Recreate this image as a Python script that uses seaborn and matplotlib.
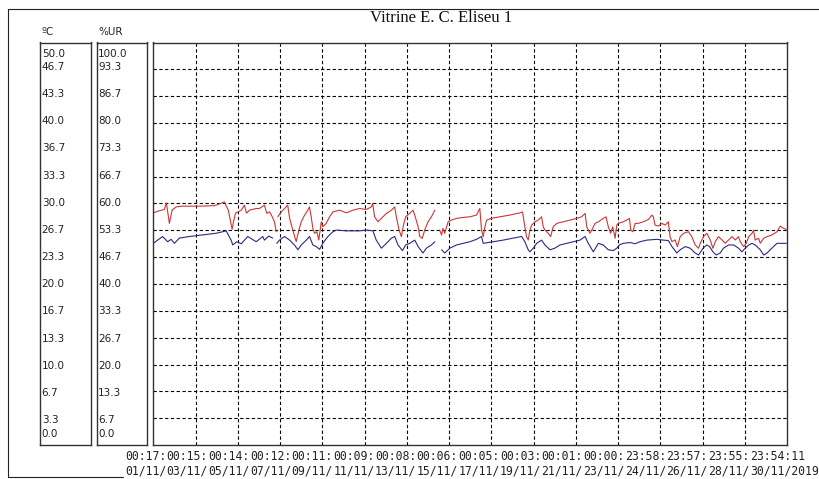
import numpy as np
import pandas as pd
import seaborn as sns
import matplotlib.pyplot as plt
from matplotlib.lines import Line2D
from matplotlib.transforms import blended_transform_factory, offset_copy

# temperature (red, degC) - days since 01/11 00:17, NaN = logger gap
red_day = [0.00, 0.28, 0.52, 0.62, 0.76, 0.89, 1.08, 1.37, 2.18, 2.89,
           3.22, 3.36, 3.55, 3.73, 3.79, 3.89, 4.16, 4.31, 4.41, 4.55,
           4.87, 5.02, 5.26, 5.37, 5.50, 5.63, 5.73, 5.82, 5.85, 5.89,
           6.00, 6.10, 6.21, 6.36, 6.45, 6.60, 6.76, 6.89, 7.00, 7.16,
           7.31, 7.39, 7.47, 7.55, 7.63, 7.74, 7.83, 7.95, 8.02, 8.18,
           8.34, 8.50, 8.82, 9.13, 9.45, 9.76, 10.08, 10.32, 10.38, 10.47,
           10.63, 10.79, 11.03, 11.27, 11.42, 11.50, 11.63, 11.74, 11.82, 11.94,
           12.13, 12.29, 12.37, 12.53, 12.61, 12.73, 12.84, 13.00, 13.16, 13.32,
           13.45, 13.55, 13.64, 13.71, 13.79, 13.95, 14.11, 14.35, 14.66, 14.98,
           15.29, 15.45, 15.53, 15.61, 15.69, 15.77, 16.00, 16.40, 16.87, 17.35,
           17.47, 17.58, 17.66, 17.74, 17.82, 17.90, 18.06, 18.21, 18.37, 18.45,
           18.53, 18.69, 18.80, 18.92, 19.09, 19.40, 19.72, 20.03, 20.27, 20.43,
           20.51, 20.66, 20.79, 20.90, 21.06, 21.29, 21.42, 21.53, 21.64, 21.74,
           21.85, 21.93, 22.00, 22.24, 22.40, 22.53, 22.59, 22.69, 22.80, 22.95,
           23.19, 23.43, 23.59, 23.66, 23.74, 23.90, 24.06, 24.22, 24.37, 24.45,
           24.54, 24.69, 24.80, 24.93, 25.09, 25.32, 25.48, 25.64, 25.80, 25.88,
           26.03, 26.19, 26.35, 26.48, 26.59, 26.74, 26.91, 27.06, 27.22, 27.38,
           27.54, 27.69, 27.77, 27.93, 28.06, 28.17, 28.33, 28.40, 28.48, 28.64,
           28.72, 28.88, 29.04, 29.27, 29.51, 29.67, 29.82, 29.95]
red_temp = [28.84, 29.09, 29.26, 30.07, 27.53, 29.17, 29.58, 29.67, 29.67, 29.73,
            30.04, 30.20, 29.17, 26.79, 27.69, 28.80, 29.17, 29.79, 28.80, 29.17,
            29.38, 29.38, 29.79, 28.77, 28.96, 28.35, 27.73, 26.49, np.nan, 28.35,
            28.77, 29.09, 29.38, 29.79, 28.15, 26.70, 25.26, 26.70, 27.73, 28.56,
            29.17, 29.58, 28.35, 26.91, 26.30, 26.49, 25.47, 27.73, 27.11, 27.53,
            28.35, 28.96, 29.17, 28.84, 29.17, 29.38, 29.26, 29.58, 30.00, 28.35,
            27.73, 28.15, 28.77, 29.17, 29.58, 28.35, 26.70, 25.88, 27.11, 28.35,
            28.77, 29.17, 28.56, 27.11, 25.88, 25.68, 26.70, 27.73, 28.35, 29.17,
            np.nan, 26.70, 26.09, 26.91, 26.30, 27.73, 27.94, 28.15, 28.27, 28.35,
            28.56, 29.38, 26.70, 25.88, 27.11, 27.94, 28.15, 28.35, 28.56, 28.84,
            28.96, 27.11, 25.88, 25.47, 26.70, 27.32, 27.73, 27.94, 28.35, 27.11,
            26.70, 26.30, 25.88, 27.11, 27.53, 27.73, 27.94, 28.15, 28.35, 28.77,
            27.11, 26.30, 26.91, 27.53, 27.73, 28.15, 28.35, 27.11, 26.30, 27.11,
            25.68, 27.32, 27.53, 27.73, 27.94, 28.15, 26.70, 26.49, 27.53, 27.53,
            27.73, 28.02, 28.56, 28.35, 27.32, 27.20, 27.53, 27.32, 27.73, 25.88,
            25.26, 25.47, 24.64, 25.88, 26.30, 26.49, 25.88, 24.85, 24.44, 25.06,
            25.88, 26.30, 25.47, 24.44, 25.26, 25.88, 25.47, 25.06, 25.47, 25.88,
            25.47, 25.88, 25.26, 24.64, 25.06, 25.88, 26.30, 26.70, 25.47, 25.68,
            25.06, 25.68, 25.88, 26.09, 26.49, 27.20, 26.91, 26.79]

# relative humidity (blue, %UR)
blue_day = [0.00, 0.44, 0.68, 0.84, 1.00, 1.23, 1.71, 2.97, 3.45, 3.68,
            3.76, 3.95, 4.16, 4.47, 4.87, 5.18, 5.26, 5.46, 5.65, 5.75,
            5.84, 5.97, 6.21, 6.45, 6.68, 6.84, 7.00, 7.24, 7.39, 7.55,
            7.71, 7.87, 8.02, 8.26, 8.50, 8.66, 9.13, 9.76, 10.08, 10.39,
            10.55, 10.79, 11.03, 11.27, 11.42, 11.58, 11.79, 11.94, 12.13, 12.37,
            12.53, 12.76, 12.92, 13.16, 13.32, 13.50, 13.64, 13.79, 14.03, 14.35,
            14.66, 14.98, 15.29, 15.53, 15.61, 15.84, 16.08, 16.55, 17.03, 17.43,
            17.58, 17.74, 17.82, 17.98, 18.14, 18.37, 18.53, 18.77, 19.00, 19.24,
            19.72, 20.19, 20.43, 20.58, 20.82, 21.06, 21.29, 21.53, 21.77, 21.93,
            22.05, 22.24, 22.56, 22.80, 23.03, 23.35, 23.82, 24.14, 24.37, 24.54,
            24.77, 24.93, 25.17, 25.40, 25.64, 25.80, 26.03, 26.19, 26.32, 26.48,
            26.64, 26.82, 26.98, 27.22, 27.46, 27.69, 27.85, 28.01, 28.17, 28.33,
            28.48, 28.72, 28.88, 29.04, 29.27, 29.51, 29.95]
blue_ur = [50.1, 51.8, 50.5, 51.1, 50.1, 51.4, 51.8, 52.6, 53.2, 50.9,
           49.7, 50.5, 50.0, 51.8, 50.5, 51.8, 50.9, 51.9, 51.4, np.nan,
           50.1, 50.9, 51.8, 50.9, 49.7, 48.5, 49.7, 50.9, 51.8, 49.7,
           49.3, 48.6, 50.1, 51.8, 53.0, 53.4, 53.2, 53.2, 53.4, 53.2,
           50.9, 48.9, 50.1, 51.4, 51.8, 49.7, 48.3, 49.7, 50.1, 50.9,
           49.3, 47.7, 48.9, 49.7, 50.5, np.nan, 48.5, 47.7, 48.9, 49.7,
           50.1, 50.5, 51.1, 51.8, 50.1, 50.3, 50.5, 50.9, 51.4, 51.8,
           50.5, 48.5, 48.0, 48.9, 50.1, 50.9, 49.7, 48.5, 48.9, 49.7,
           50.3, 50.9, 51.8, 50.1, 48.0, 50.1, 49.7, 48.5, 48.3, 48.9,
           49.7, 50.1, 50.3, 50.0, 50.5, 50.9, 51.1, 50.9, 50.8, 49.3,
           47.7, 48.5, 49.3, 48.9, 47.7, 47.2, 49.0, 49.7, 49.3, 48.0,
           47.2, 47.7, 48.9, 49.7, 49.7, 48.9, 48.0, 48.9, 49.7, 50.1,
           49.7, 48.5, 47.2, 47.7, 48.9, 50.1, 50.1]

c_labels = ['50.0', '46.7', '43.3', '40.0', '36.7', '33.3', '30.0', '26.7',
            '23.3', '20.0', '16.7', '13.3', '10.0', '6.7', '3.3', '0.0']
ur_labels = ['100.0', '93.3', '86.7', '80.0', '73.3', '66.7', '60.0', '53.3',
             '46.7', '40.0', '33.3', '26.7', '20.0', '13.3', '6.7', '0.0']
# x labels as they show: each one is cut off by the next, only the last is whole
time_labels = ['00:17:', '00:15:', '00:14:', '00:12:', '00:11:', '00:09:', '00:08:',
               '00:06:', '00:05:', '00:03:', '00:01:', '00:00:', '23:58:', '23:57:',
               '23:55:', '23:54:11']
date_labels = ['01/11/', '03/11/', '05/11/', '07/11/', '09/11/', '11/11/', '13/11/',
               '15/11/', '17/11/', '19/11/', '21/11/', '23/11/', '24/11/', '26/11/',
               '28/11/', '30/11/2019']
title = 'Vitrine E. C. Eliseu 1'
span_days = 29.984


def to_frame(days, vals):
    df = pd.DataFrame({'day': days, 'val': vals})
    df['seg'] = df['val'].isna().cumsum()
    return df.dropna()


sns.set_theme(style='white')
plt.rcParams['font.family'] = ['DejaVu Sans']

W, H = 819, 479
fig = plt.figure(figsize=(W / 100, H / 100), dpi=100)
fig.patch.set_facecolor('white')


def fx(px):
    return px / W


def fy(py):
    return 1 - py / H


top, bot = 42.5, 445.0
edge = '#333333'

ax = fig.add_axes([fx(153.3), fy(bot), (787 - 153.3) / W, (bot - top) / H])
ax.set_xlim(0, span_days)
ax.set_ylim(0, 50)
ax.set_xticks(np.linspace(0, span_days, 16)[1:-1])
ax.set_yticks(np.linspace(0, 50, 16)[1:-1])
ax.grid(True, color='black', linestyle=(0, (3, 2.2)), linewidth=0.8)
ax.tick_params(length=0, labelbottom=False, labelleft=False)
ax.set_xlabel('')
ax.set_ylabel('')
for s in ax.spines.values():
    s.set_color(edge)
    s.set_linewidth(1.0)

sns.lineplot(data=to_frame(red_day, red_temp), x='day', y='val', units='seg',
             estimator=None, sort=False, color='#cc3636', linewidth=0.8, ax=ax)

ax_ur = ax.twinx()
ax_ur.set_ylim(0, 100)
sns.lineplot(data=to_frame(blue_day, blue_ur), x='day', y='val', units='seg',
             estimator=None, sort=False, color='#2b2b80', linewidth=0.8, ax=ax_ur)
ax_ur.set_yticks([])
ax_ur.set_ylabel('')
ax_ur.set_xlim(0, span_days)
for s in ax_ur.spines.values():
    s.set_visible(False)

# the two scale boxes
for left, width, labels, top_val, xin, head in [
        (40.0, 50.7, c_labels, 50, 0.034, 'ºC'),
        (96.7, 50.0, ur_labels, 100, 0.032, '%UR')]:
    bx = fig.add_axes([fx(left), fy(bot), width / W, (bot - top) / H])
    bx.set_xticks([])
    bx.set_yticks([])
    bx.set_ylim(0, top_val)
    for s in bx.spines.values():
        s.set_color(edge)
        s.set_linewidth(1.0)
    base = blended_transform_factory(bx.transAxes, bx.transData)
    n = len(labels) - 1
    for k, lab in enumerate(labels):
        val = top_val - k * top_val / n
        grid_px = top + k * (bot - top) / n
        if k == 0:
            base_px = 57.0
        elif k == n:
            base_px = 437.0
        else:
            base_px = grid_px + 0.35 + 0.32 * k
        tr = offset_copy(base, fig=fig, x=0, y=-(base_px - grid_px), units='dots')
        bx.text(xin, val, lab, transform=tr, ha='left', va='baseline',
                fontsize=7.5, color='#222222')
    fig.text(fx(left + 2), fy(35), head, ha='left', va='baseline',
             fontsize=7.5, color='#222222')

fig.text(fx(441), fy(18), title, ha='center', va='center',
         fontsize=12, family=['Liberation Serif', 'DejaVu Serif'], color='#111111')

# outer frame (its bottom edge runs under the date row)
frame_kw = dict(color='#222222', linewidth=0.8, transform=fig.transFigure)
fig.add_artist(Line2D([fx(8.3), fx(819)], [fy(9.3), fy(9.3)], **frame_kw))
fig.add_artist(Line2D([fx(8.3), fx(8.3)], [fy(9.3), fy(476.8)], **frame_kw))
fig.add_artist(Line2D([fx(8.3), fx(123)], [fy(476.8), fy(476.8)], **frame_kw))

for i, (t, d) in enumerate(zip(time_labels, date_labels)):
    x0 = 124.8 + i * 41.67
    fig.text(fx(x0), fy(460), t, ha='left', va='baseline', fontsize=8.3,
             family='DejaVu Sans Mono', color='#222222')
    fig.text(fx(x0), fy(475), d, ha='left', va='baseline', fontsize=8.3,
             family='DejaVu Sans Mono', color='#222222')

fig.savefig('out.png', dpi=100)
